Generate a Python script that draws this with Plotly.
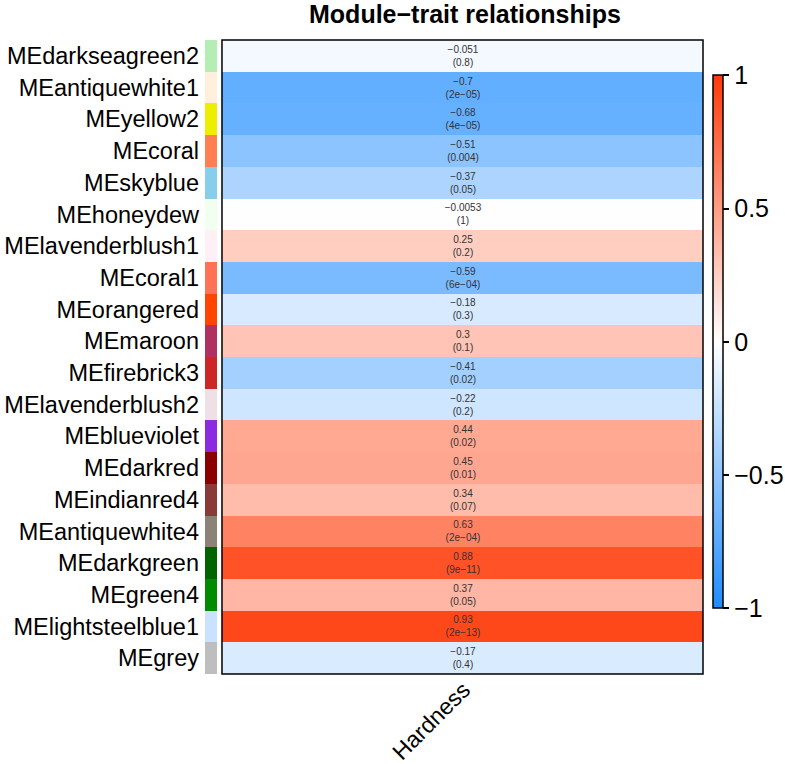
import plotly.graph_objects as go

modules = ["MEdarkseagreen2", "MEantiquewhite1", "MEyellow2", "MEcoral", "MEskyblue",
           "MEhoneydew", "MElavenderblush1", "MEcoral1", "MEorangered", "MEmaroon",
           "MEfirebrick3", "MElavenderblush2", "MEblueviolet", "MEdarkred", "MEindianred4",
           "MEantiquewhite4", "MEdarkgreen", "MEgreen4", "MElightsteelblue1", "MEgrey"]
module_colors = ["#B4EEB4", "#FFEFDB", "#EEEE00", "#FF7F50", "#87CEEB",
                 "#F0FFF0", "#FFF0F5", "#FF7256", "#FF4500", "#B03060",
                 "#CD2626", "#EEE0E5", "#8A2BE2", "#8B0000", "#8B3A3A",
                 "#8B8378", "#006400", "#008B00", "#CAE1FF", "#BEBEBE"]
trait = ["Hardness"]
cor = [-0.051, -0.7, -0.68, -0.51, -0.37, -0.0053, 0.25, -0.59, -0.18, 0.3,
       -0.41, -0.22, 0.44, 0.45, 0.34, 0.63, 0.88, 0.37, 0.93, -0.17]
pvals = ["0.8", "2e-05", "4e-05", "0.004", "0.05", "1", "0.2", "6e-04", "0.3", "0.1",
         "0.02", "0.2", "0.02", "0.01", "0.07", "2e-04", "9e-11", "0.05", "2e-13", "0.4"]
cbar_ticks = [-1, -0.5, 0, 0.5, 1]
cbar_labels = ["\u22121", "\u22120.5", "0", "0.5", "1"]

def fmt(v):
    return str(v).replace("-", "\u2212")

cell_text = [[fmt(c) + "<br>(" + fmt(p) + ")"] for c, p in zip(cor, pvals)]
z = [[c] for c in cor]

FONT = "Liberation Sans, Arial, sans-serif"

fig = go.Figure()
fig.add_trace(go.Bar(
    x=[1] * len(modules), y=modules, orientation="h",
    marker=dict(color=module_colors, line=dict(width=0)),
    xaxis="x2", yaxis="y", showlegend=False, hoverinfo="y",
))
fig.add_trace(go.Heatmap(
    z=z, x=trait, y=modules, text=cell_text, texttemplate="%{text}",
    textfont=dict(size=10, color="#333333", family=FONT),
    zmin=-1, zmax=1,
    colorscale=[[0, "#1E8CFF"], [0.5, "#FFFFFF"], [1, "#FF3A08"]],
    xaxis="x", yaxis="y",
    colorbar=dict(
        x=1.0201, xanchor="left", xpad=0, ypad=0,
        y=0.524, yanchor="middle", len=0.84, lenmode="fraction",
        thickness=10, outlinewidth=1.5, outlinecolor="black",
        tickvals=cbar_ticks, ticktext=cbar_labels,
        ticks="outside", ticklen=6, tickcolor="black", tickwidth=1.5,
        tickfont=dict(size=25, color="black", family=FONT),
    ),
))

fig.update_layout(
    width=785, height=764,
    margin=dict(l=205, r=82, t=40, b=90, autoexpand=False),
    paper_bgcolor="white", plot_bgcolor="white",
    bargap=0,
    title=dict(text="<b>Module\u2212trait relationships</b>", x=0.522, xref="paper",
               xanchor="center", y=0.982, yanchor="middle",
               font=dict(size=25, color="black", family=FONT)),
    xaxis=dict(domain=[0.0341, 1], showgrid=False, zeroline=False, tickangle=-45,
               tickfont=dict(size=23, color="black", family=FONT), ticks="",
               ticklabelshift=1, ticklabelstandoff=-3, automargin=False),
    xaxis2=dict(domain=[0, 0.0241], range=[0, 1], showgrid=False, zeroline=False,
                showticklabels=False, fixedrange=True, automargin=False),
    yaxis=dict(autorange="reversed", showgrid=False, zeroline=False, anchor="x2",
               tickfont=dict(size=23.5, color="black", family=FONT), ticks="",
               ticklabelstandoff=5, automargin=False),
    shapes=[dict(type="rect", xref="x domain", yref="y domain", x0=0, x1=1, y0=0, y1=1,
                 line=dict(color="black", width=1.5), fillcolor="rgba(0,0,0,0)")],
)

fig.write_html("out.html")
